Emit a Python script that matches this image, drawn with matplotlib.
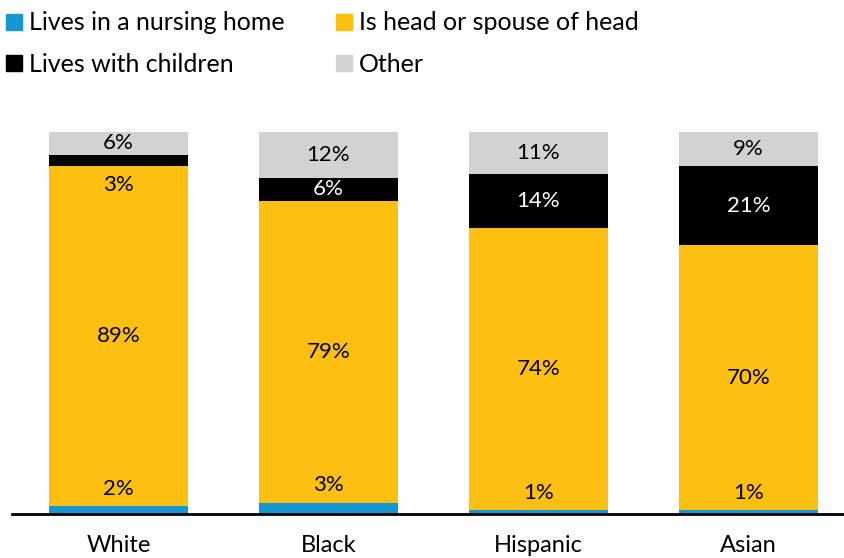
import matplotlib
matplotlib.use('Agg')
import matplotlib.pyplot as plt
from matplotlib.lines import Line2D
import numpy as np

plt.rcParams['font.family'] = ['Lato', 'DejaVu Sans']

groups = ['White', 'Black', 'Hispanic', 'Asian']
nursing = [2, 3, 1, 1]
head = [89, 79, 74, 70]
children = [3, 6, 14, 21]
other = [6, 12, 11, 9]

series = [
    ('Lives in a nursing home', nursing, '#1696d2'),
    ('Is head or spouse of head', head, '#fdbf11'),
    ('Lives with children', children, '#000000'),
    ('Other', other, '#d2d2d2'),
]

fig = plt.figure(figsize=(8.44, 5.58), dpi=100)
ax = fig.add_axes([12 / 844, 44 / 558, 832 / 844, 382 / 558])

x = np.arange(len(groups))
totals = np.sum([s[1] for s in series], axis=0)
bottom = np.zeros(len(groups))
width = 0.664

for name, vals, color in series:
    h = np.array(vals) / totals * 100
    ax.bar(x, h, width, bottom=bottom, color=color, linewidth=0)
    for i, v in enumerate(vals):
        txt_color = 'white' if color == '#000000' else 'black'
        if name == 'Lives in a nursing home':
            y = h[i] + 4.5
        elif name == 'Lives with children' and v < 5:
            # too thin to hold the label, put it just under the strip
            y = bottom[i] - 5
            txt_color = 'black'
        else:
            y = bottom[i] + h[i] / 2
        ax.text(x[i], y, f'{v}%', ha='center', va='center',
                fontsize=16, color=txt_color)
    bottom += h

ax.set_xlim(-0.507, 3.455)
ax.set_ylim(0, 100)
ax.set_xticks(x)
ax.set_xticklabels(groups, fontsize=17)
ax.tick_params(axis='x', length=0, pad=15)
ax.set_yticks([])
for side in ['left', 'right', 'top']:
    ax.spines[side].set_visible(False)
ax.spines['bottom'].set_linewidth(2)
ax.spines['bottom'].set_color('black')

handles = []
labels = []
for idx in [0, 2, 1, 3]:
    name, vals, color = series[idx]
    handles.append(Line2D([], [], marker='s', linestyle='none',
                          markersize=11, color=color))
    labels.append(name)
fig.legend(handles, labels, loc='upper left', bbox_to_anchor=(-0.006, 1.0),
           ncol=2, frameon=False, fontsize=18, handlelength=0.6,
           handletextpad=0.3, columnspacing=2.1, labelspacing=0.75,
           borderaxespad=0.05)

plt.savefig('out.png', dpi=100)
